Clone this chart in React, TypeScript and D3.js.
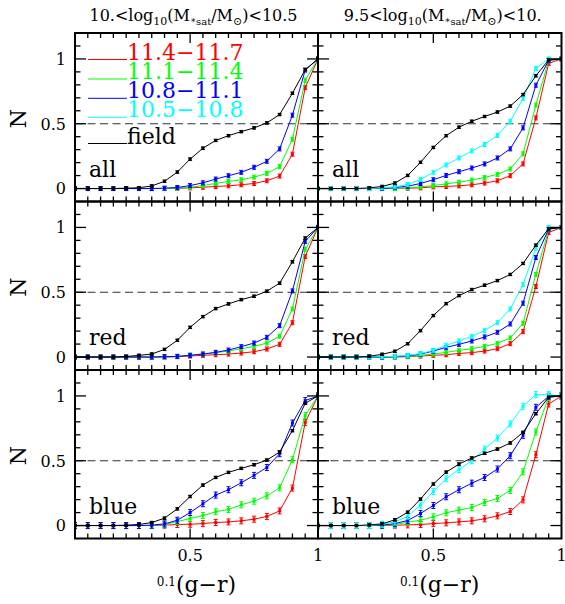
import React from 'react';
import * as d3 from 'd3';

// colour index 0.1(g-r) sample points
const XS = [0.05, 0.1, 0.15, 0.2, 0.25, 0.3, 0.35, 0.4, 0.45, 0.5, 0.55, 0.6, 0.65, 0.7, 0.75, 0.8, 0.85, 0.9, 0.95, 1.0];

// Left column: 10 < log M*sat < 10.5  ---- row "all"
const allHiField = [0, 0, 0, 0, 0.003, 0.006, 0.02, 0.056, 0.127, 0.227, 0.311, 0.371, 0.408, 0.439, 0.468, 0.506, 0.571, 0.735, 0.917, 1];
const allHiM108 = [0, 0, 0, 0, 0, 0, 0, 0.003, 0.008, 0.023, 0.044, 0.073, 0.099, 0.125, 0.164, 0.21, 0.306, 0.566, 0.914, 1];
const allHiM111 = [0, 0, 0, 0, 0, 0, 0, 0, 0.003, 0.01, 0.023, 0.039, 0.055, 0.068, 0.088, 0.117, 0.169, 0.38, 0.836, 1];
const allHiM114 = [0, 0, 0, 0, 0, 0, 0, 0, 0.002, 0.005, 0.01, 0.016, 0.021, 0.029, 0.039, 0.06, 0.096, 0.265, 0.779, 1];

// Right column: 9.5 < log M*sat < 10 ---- row "all"
const allLoField = [0, 0, 0, 0, 0.005, 0.016, 0.042, 0.101, 0.202, 0.317, 0.408, 0.473, 0.519, 0.556, 0.59, 0.636, 0.725, 0.87, 0.992, 1];
const allLoM105 = [0, 0, 0, 0, 0, 0.005, 0.013, 0.031, 0.07, 0.125, 0.182, 0.236, 0.29, 0.34, 0.41, 0.519, 0.694, 0.927, 1.0, 1];
const allLoM108 = [0, 0, 0, 0, 0, 0, 0.008, 0.018, 0.039, 0.068, 0.101, 0.13, 0.158, 0.19, 0.236, 0.306, 0.468, 0.797, 0.99, 1];
const allLoM111 = [0, 0, 0, 0, 0, 0, 0, 0.005, 0.013, 0.023, 0.036, 0.049, 0.065, 0.086, 0.109, 0.151, 0.268, 0.644, 0.99, 1];
const allLoM114 = [0, 0, 0, 0, 0, 0, 0, 0.003, 0.005, 0.013, 0.016, 0.021, 0.029, 0.042, 0.06, 0.099, 0.19, 0.545, 0.966, 1];

// row "red"
const redHiField = [0, 0, 0, 0, 0.004, 0.013, 0.023, 0.059, 0.129, 0.229, 0.312, 0.374, 0.41, 0.443, 0.469, 0.508, 0.57, 0.735, 0.918, 1];
const redHiM108 = [0, 0, 0, 0, 0, 0, 0, 0.003, 0.005, 0.013, 0.023, 0.036, 0.054, 0.08, 0.108, 0.152, 0.242, 0.51, 0.892, 1];
const redHiM111 = [0, 0, 0, 0, 0, 0, 0, 0, 0.005, 0.015, 0.023, 0.034, 0.046, 0.064, 0.082, 0.108, 0.16, 0.371, 0.832, 1];
const redHiM114 = [0, 0, 0, 0, 0, 0, 0, 0, 0.003, 0.008, 0.013, 0.018, 0.023, 0.031, 0.041, 0.062, 0.098, 0.265, 0.776, 1];

const redLoField = [0, 0, 0, 0, 0.006, 0.021, 0.044, 0.103, 0.204, 0.32, 0.412, 0.474, 0.521, 0.554, 0.59, 0.637, 0.722, 0.863, 0.99, 1];
const redLoM105 = [0, 0, 0, 0, 0, 0.003, 0.005, 0.013, 0.026, 0.052, 0.09, 0.124, 0.16, 0.204, 0.265, 0.371, 0.559, 0.84, 1.0, 1];
const redLoM108 = [0, 0, 0, 0, 0, 0, 0.003, 0.01, 0.023, 0.046, 0.075, 0.098, 0.124, 0.155, 0.191, 0.255, 0.415, 0.768, 0.987, 1];
const redLoM111 = [0, 0, 0, 0, 0, 0, 0, 0.005, 0.013, 0.023, 0.036, 0.052, 0.064, 0.082, 0.106, 0.147, 0.26, 0.637, 0.985, 1];
const redLoM114 = [0, 0, 0, 0, 0, 0, 0, 0.003, 0.008, 0.013, 0.018, 0.028, 0.034, 0.046, 0.064, 0.103, 0.196, 0.544, 0.961, 1];

// row "blue"
const blueHiField = [0, 0, 0, 0, 0.003, 0.008, 0.023, 0.057, 0.129, 0.224, 0.312, 0.371, 0.41, 0.441, 0.469, 0.505, 0.567, 0.732, 0.943, 1];
const blueHiM108 = [0, 0, 0, 0, 0, 0, 0.003, 0.013, 0.041, 0.1, 0.168, 0.235, 0.276, 0.33, 0.387, 0.448, 0.554, 0.791, 0.964, 1];
const blueHiM111 = [0, 0, 0, 0, 0, 0, 0, 0.008, 0.031, 0.054, 0.077, 0.106, 0.124, 0.16, 0.188, 0.229, 0.291, 0.508, 0.848, 1];
const blueHiM114 = [0, 0, 0, 0, 0, 0, 0, 0.003, 0.008, 0.01, 0.015, 0.023, 0.028, 0.036, 0.049, 0.07, 0.113, 0.289, 0.796, 1];

const blueLoField = [0, 0, 0, 0, 0.005, 0.013, 0.044, 0.103, 0.204, 0.32, 0.412, 0.474, 0.521, 0.557, 0.59, 0.637, 0.719, 0.863, 0.99, 1];
const blueLoM105 = [0, 0, 0, 0, 0, 0.01, 0.028, 0.072, 0.157, 0.263, 0.361, 0.433, 0.5, 0.59, 0.675, 0.784, 0.92, 1.01, 1.01, 1];
const blueLoM108 = [0, 0, 0, 0, 0, 0.003, 0.015, 0.039, 0.093, 0.155, 0.222, 0.276, 0.327, 0.371, 0.436, 0.539, 0.696, 0.912, 0.997, 1];
const blueLoM111 = [0, 0, 0, 0, 0, 0, 0.008, 0.026, 0.041, 0.067, 0.098, 0.119, 0.139, 0.178, 0.209, 0.271, 0.415, 0.722, 0.99, 1];
const blueLoM114 = [0, 0, 0, 0, 0, 0, 0.003, 0.005, 0.008, 0.015, 0.021, 0.028, 0.036, 0.052, 0.075, 0.108, 0.198, 0.546, 0.938, 1];

const LEGEND_LABELS = ['11.4\u221211.7', '11.1\u221211.4', '10.8\u221211.1', '10.5\u221210.8', 'field'];
const LEGEND_COLORS = ['#ff0000', '#00ff00', '#0000ff', '#00ffff', '#000000'];
const ROW_LABELS = ['all', 'red', 'blue'];
const X_TICK_LABELS = ['0.5', '1'];
const X_TICK_VALUES = [0.5, 1.0];
const Y_TICK_LABELS = ['0', '0.5', '1'];
const Y_TICK_VALUES = [0, 0.5, 1];

type Series = { color: string; values: number[] };

const GRID: Series[][][] = [
  [
    [
      { color: '#ff0000', values: allHiM114 },
      { color: '#00ff00', values: allHiM111 },
      { color: '#0000ff', values: allHiM108 },
      { color: '#000000', values: allHiField },
    ],
    [
      { color: '#ff0000', values: allLoM114 },
      { color: '#00ff00', values: allLoM111 },
      { color: '#0000ff', values: allLoM108 },
      { color: '#00ffff', values: allLoM105 },
      { color: '#000000', values: allLoField },
    ],
  ],
  [
    [
      { color: '#ff0000', values: redHiM114 },
      { color: '#00ff00', values: redHiM111 },
      { color: '#0000ff', values: redHiM108 },
      { color: '#000000', values: redHiField },
    ],
    [
      { color: '#ff0000', values: redLoM114 },
      { color: '#00ff00', values: redLoM111 },
      { color: '#0000ff', values: redLoM108 },
      { color: '#00ffff', values: redLoM105 },
      { color: '#000000', values: redLoField },
    ],
  ],
  [
    [
      { color: '#ff0000', values: blueHiM114 },
      { color: '#00ff00', values: blueHiM111 },
      { color: '#0000ff', values: blueHiM108 },
      { color: '#000000', values: blueHiField },
    ],
    [
      { color: '#ff0000', values: blueLoM114 },
      { color: '#00ff00', values: blueLoM111 },
      { color: '#0000ff', values: blueLoM108 },
      { color: '#00ffff', values: blueLoM105 },
      { color: '#000000', values: blueLoField },
    ],
  ],
];

const FONT = "'DejaVu Serif', 'Liberation Serif', serif";
const X_LEFT = [75, 318];
const X_RIGHT = [318, 561.5];
const Y_TOP = 33;
const ROW_H = 168.5;
const X_DOMAIN: [number, number] = [0.05, 1.0];
const Y_DOMAIN: [number, number] = [-0.1, 1.2];

function Panel({ row, col }: { row: number; col: number }) {
  const x = d3.scaleLinear().domain(X_DOMAIN).range([X_LEFT[col], X_RIGHT[col]]);
  const top = Y_TOP + row * ROW_H;
  const bottom = top + ROW_H;
  const y = d3.scaleLinear().domain(Y_DOMAIN).range([bottom, top]);
  const line = d3
    .line<number>()
    .x((_, i) => x(XS[i]))
    .y((v) => y(v));
  const series = GRID[row][col];
  const clipId = `clip-${row}-${col}`;
  const xMinor = d3.range(0.1, 0.999, 0.05);
  const yMinor = d3.range(-0.1, 1.2001, 0.1).filter((v) => v > -0.05 && v < 1.15);
  const isMajorX = (t: number) => Math.abs(t - 0.5) < 1e-6;
  const isMajorY = (t: number) => Y_TICK_VALUES.some((m) => Math.abs(m - t) < 1e-6);
  const errH = row === 2 ? 3 : 2;
  const x0 = X_LEFT[col];
  const x1 = X_RIGHT[col];

  return (
    <g>
      <defs>
        <clipPath id={clipId}>
          <rect x={x0} y={top} width={x1 - x0} height={ROW_H} />
        </clipPath>
      </defs>
      <line x1={x0} x2={x1} y1={y(0.5)} y2={y(0.5)} stroke="#333" strokeWidth={1.2} strokeDasharray="8,4.5" />
      <g clipPath={`url(#${clipId})`}>
        {series.map((s, si) => (
          <g key={si}>
            <path d={line(s.values) || ''} fill="none" stroke={s.color} strokeWidth={1} />
            {s.values.map((v, i) => {
              const px = x(XS[i]);
              const py = y(v);
              const h = s.color === '#000000' ? 1.2 : errH;
              return (
                <g key={i}>
                  <line x1={px} x2={px} y1={py - h} y2={py + h} stroke={s.color} strokeWidth={1.2} />
                  <line x1={px - 2} x2={px + 2} y1={py - h} y2={py - h} stroke={s.color} strokeWidth={1} />
                  <line x1={px - 2} x2={px + 2} y1={py + h} y2={py + h} stroke={s.color} strokeWidth={1} />
                  <rect x={px - 1.5} y={py - 1.5} width={3} height={3} fill={s.color} />
                </g>
              );
            })}
          </g>
        ))}
      </g>
      {/* ticks */}
      {xMinor.map((t, i) => {
        const len = isMajorX(t) ? 10 : 5;
        return (
          <g key={`xt${i}`} stroke="#000" strokeWidth={1.3}>
            <line x1={x(t)} x2={x(t)} y1={bottom} y2={bottom - len} />
            <line x1={x(t)} x2={x(t)} y1={top} y2={top + len} />
          </g>
        );
      })}
      {yMinor.map((t, i) => {
        const len = isMajorY(t) ? 11 : 5.5;
        return (
          <g key={`yt${i}`} stroke="#000" strokeWidth={1.3}>
            <line x1={x0} x2={x0 + len} y1={y(t)} y2={y(t)} />
            <line x1={x1} x2={x1 - len} y1={y(t)} y2={y(t)} />
          </g>
        );
      })}
      <rect x={x0} y={top} width={x1 - x0} height={ROW_H} fill="none" stroke="#000" strokeWidth={2} />
      <text x={x0 + 14} y={y(0.09)} fontFamily={FONT} fontSize={22} fill="#000">
        {ROW_LABELS[row]}
      </text>
      {col === 0 &&
        Y_TICK_VALUES.map((t, i) => (
          <text key={`yl${i}`} x={66} y={y(t) + 5.8} textAnchor="end" fontFamily={FONT} fontSize={16} fill="#000">
            {Y_TICK_LABELS[i]}
          </text>
        ))}
      {col === 0 && (
        <text
          transform={`translate(26, ${y(0.54)}) rotate(-90)`}
          textAnchor="middle"
          fontFamily={FONT}
          fontSize={22}
          fill="#000"
        >
          N
        </text>
      )}
      {row === 2 &&
        X_TICK_VALUES.map((t, i) => (
          <text key={`xl${i}`} x={x(t)} y={561} textAnchor="middle" fontFamily={FONT} fontSize={16} fill="#000">
            {X_TICK_LABELS[i]}
          </text>
        ))}
      {row === 2 && (
        <text x={(x0 + x1) / 2} y={592} textAnchor="middle" fontFamily={FONT} fontSize={22} fill="#000">
          <tspan fontSize={12} dy={-6}>0.1</tspan>
          <tspan dy={6}>(g{'\u2212'}r)</tspan>
        </text>
      )}
    </g>
  );
}

function Title({ cx, lo, hi }: { cx: number; lo: string; hi: string }) {
  return (
    <text x={cx} y={21} textAnchor="middle" fontFamily={FONT} fontSize={16} fill="#000">
      {lo}&lt;log
      <tspan fontSize={11} dy={4}>10</tspan>
      <tspan dy={-4}>(M</tspan>
      <tspan fontSize={9} dy={2}>{'\u2217'}</tspan>
      <tspan fontSize={10} dy={2}>sat</tspan>
      <tspan dy={-4}>/M</tspan>
      <tspan fontSize={11} dy={4}>{'\u2299'}</tspan>
      <tspan dy={-4}>)&lt;{hi}</tspan>
    </text>
  );
}

function Legend() {
  const baselines = [59.5, 79, 98.3, 117.3, 143.5];
  return (
    <g>
      {LEGEND_LABELS.map((lab, i) => (
        <g key={i}>
          <line x1={88} x2={127} y1={baselines[i]} y2={baselines[i]} stroke={LEGEND_COLORS[i]} strokeWidth={1} />
          <text x={127} y={baselines[i]} fontFamily={FONT} fontSize={22} fill={LEGEND_COLORS[i]}>
            {lab}
          </text>
        </g>
      ))}
    </g>
  );
}

export default function App() {
  return (
    <svg
      width={565}
      height={604}
      style={{ position: 'absolute', left: 0, top: 0, background: '#fff' }}
    >
      <rect x={0} y={0} width={565} height={604} fill="#fff" />
      <Title cx={(X_LEFT[0] + X_RIGHT[0]) / 2 - 3} lo="10." hi="10.5" />
      <Title cx={(X_LEFT[1] + X_RIGHT[1]) / 2 + 3} lo="9.5" hi="10." />
      {[0, 1, 2].map((r) => [0, 1].map((c) => <Panel key={`${r}-${c}`} row={r} col={c} />))}
      <Legend />
    </svg>
  );
}
